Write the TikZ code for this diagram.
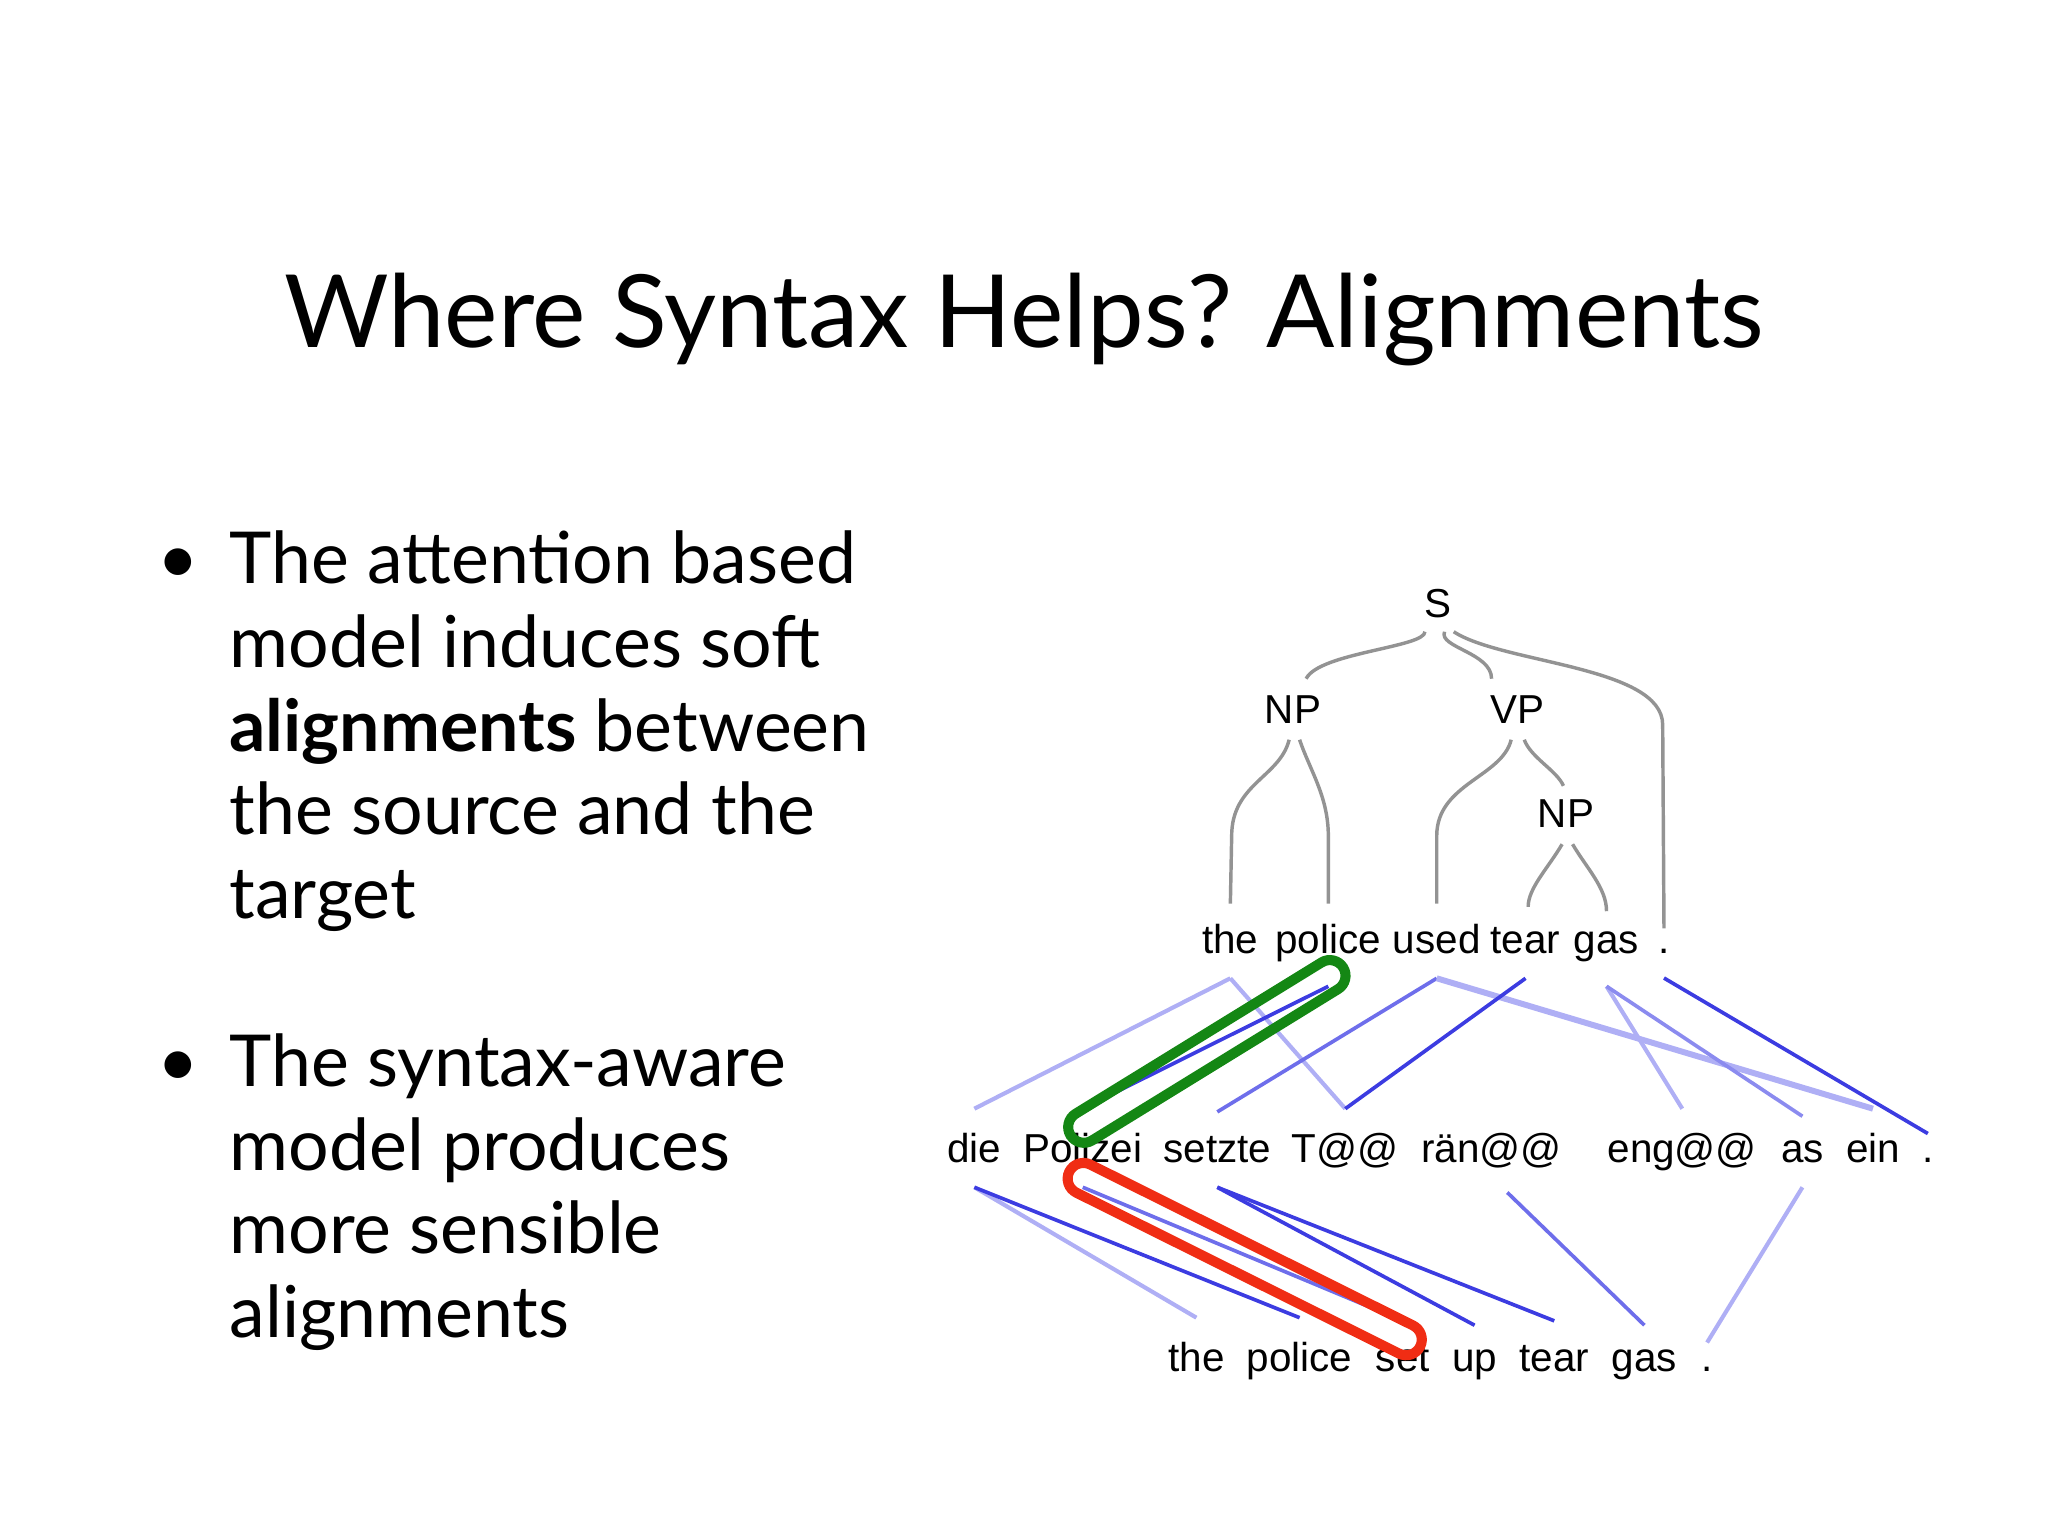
\documentclass[tikz,border=0pt]{standalone}
\usepackage{fontspec}
\setmainfont{Lato}
\newfontfamily\treefont{Liberation Sans}
\definecolor{strongb}{RGB}{60,60,225}
\definecolor{midb}{RGB}{110,110,235}
\definecolor{lightb}{RGB}{175,175,245}
\definecolor{grn}{RGB}{20,135,20}
\definecolor{rd}{RGB}{240,45,20}
\begin{document}
\begin{tikzpicture}[x=0.01cm,y=-0.01cm,
  tw/.style={font=\treefont\fontsize{8.8}{11}\selectfont,inner sep=0pt},
  body/.style={font=\fontsize{15.6}{19}\selectfont,anchor=base west,inner sep=0pt},
  tr/.style={draw=gray!85,line width=0.75pt},
  sb/.style={strongb,line width=0.8pt},
  mb/.style={midb,line width=0.8pt},
  lb/.style={lightb,line width=0.9pt},
  capsule/.style={draw=#1,line width=2.2pt,rounded corners=0.12cm,minimum height=0.24cm,inner sep=0pt}]
\useasboundingbox (0,0) rectangle (1568,1176);
\node[font=\fontsize{22}{26}\selectfont,inner sep=0pt] (title) at (784,245) {Where Syntax Helps? Alignments};
% bullets
\node[body] (b1) at (120,447) {•};
\node[body] (l1) at (175,447) {The attention based};
\node[body] (l2) at (175,511) {model induces soft};
\node[body] (l3) at (175,575) {\textbf{alignments} between};
\node[body] (l4) at (175,639) {the source and the};
\node[body] (l5) at (175,703) {target};
\node[body] (b2) at (120,832) {•};
\node[body] (m1) at (175,832) {The syntax-aware};
\node[body] (m2) at (175,896) {model produces};
\node[body] (m3) at (175,960) {more sensible};
\node[body] (m4) at (175,1024) {alignments};
% tree
\node[tw] (S) at (1101,462) {S};
\node[tw] (NPa) at (990,543) {NP};
\node[tw] (VP) at (1162,543) {VP};
\node[tw] (NPb) at (1199,623) {NP};
\foreach \n/\x/\w in {tA/942/the,tB/1017/police,tC/1100/used,tD/1168/tear,tE/1230/gas,tF/1274/.}
  \node[tw,anchor=base] (\n) at (\x,730) {\w};
\foreach \n/\x/\w in {gA/746/die,gB/829/Polizei,gC/932/setzte,gD/1030/T@@,gE/1142/rän@@,gF/1288/eng@@,gG/1380/as,gH/1434/ein,gI/1476/.}
  \node[tw,anchor=base] (\n) at (\x,890) {\w};
\foreach \n/\x/\w in {eA/916/the,eB/995/police,eC/1074/set,eD/1129/up,eE/1190/tear,eF/1259/gas,eG/1307/.}
  \node[tw,anchor=base] (\n) at (\x,1050) {\w};
% tree edges
\draw[tr] ([xshift=-0.1cm,yshift=-0.1cm]S.south) .. controls +(0,12) and +(10,-20) .. ([xshift=0.1cm,yshift=0.12cm]NPa.north);
\draw[tr] ([xshift=0.05cm,yshift=-0.1cm]S.south) .. controls +(-5,12) and +(0,-20) .. ([xshift=-0.2cm,yshift=0.12cm]VP.north);
\draw[tr] ([xshift=0.12cm,yshift=-0.1cm]S.south) .. controls (1150,508) and (1273,510) .. (1273,555) -- ([yshift=0.15cm]tF.north);
\draw[tr] ([xshift=-0.03cm,yshift=-0.12cm]NPa.south) .. controls (980,595) and (943,600) .. (943,640) -- ([yshift=0.15cm]tA.north);
\draw[tr] ([xshift=0.05cm,yshift=-0.12cm]NPa.south) .. controls (1003,590) and (1017,610) .. (1017,640) -- ([yshift=0.15cm]tB.north);
\draw[tr] ([xshift=-0.05cm,yshift=-0.12cm]VP.south) .. controls (1150,595) and (1100,600) .. (1100,640) -- ([yshift=0.15cm]tC.north);
\draw[tr] ([xshift=0.05cm,yshift=-0.12cm]VP.south) .. controls (1172,580) and (1192,590) .. ([xshift=-0.02cm,yshift=0.1cm]NPb.north);
\draw[tr] ([xshift=-0.03cm,yshift=-0.12cm]NPb.south) .. controls (1185,665) and (1170,680) .. ([xshift=0.02cm,yshift=0.15cm]tD.north);
\draw[tr] ([xshift=0.05cm,yshift=-0.12cm]NPb.south) .. controls (1215,665) and (1230,680) .. ([yshift=0.15cm]tE.north);
% alignments top
\draw[lb] ([yshift=-0.18cm]tA.south) -- ([yshift=0.18cm]gA.north);
\draw[lb] ([yshift=-0.18cm]tA.south) -- ([yshift=0.18cm]gD.north);
\draw[mb] ([yshift=-0.18cm]tC.south) -- ([yshift=0.18cm]gC.north);
\draw[lb,line width=1.3pt] ([yshift=-0.18cm]tC.south) -- ([yshift=0.18cm]gH.north);
\draw[sb] ([yshift=-0.18cm]tD.south) -- ([yshift=0.18cm]gD.north);
\draw[lb] ([yshift=-0.18cm]tE.south) -- ([yshift=0.18cm]gF.north);
\draw[mb,midb!80] ([yshift=-0.18cm]tE.south) -- ([yshift=0.18cm]gG.north);
\draw[sb] ([yshift=-0.18cm]tF.south) -- ([yshift=0.18cm]gI.north);
\draw[sb] ([yshift=-0.18cm]tB.south) -- ([yshift=0.18cm]gB.north);
% alignments bottom
\draw[lb] ([yshift=-0.18cm]gA.south) -- ([yshift=0.18cm]eA.north);
\draw[sb] ([yshift=-0.18cm]gA.south) -- ([yshift=0.18cm]eB.north);
\draw[mb] ([yshift=-0.18cm]gB.south) -- ([yshift=0.18cm]eC.north);
\draw[sb] ([yshift=-0.18cm]gC.south) -- ([yshift=0.18cm]eD.north);
\draw[sb] ([yshift=-0.18cm]gC.south) -- ([yshift=0.18cm]eE.north);
\draw[mb] ([xshift=0.12cm,yshift=-0.18cm]gE.south) -- ([yshift=0.18cm]eF.north);
\draw[lb] ([yshift=-0.18cm]gG.south) -- ([yshift=0.18cm]eG.north);
% capsules
\node[capsule=grn,minimum width=2.45cm,rotate=31.6] (cg) at (924,805) {};
\node[capsule=rd,minimum width=3.0cm,rotate=-26.5] (cr) at (953,964) {};
\end{tikzpicture}
\end{document}
